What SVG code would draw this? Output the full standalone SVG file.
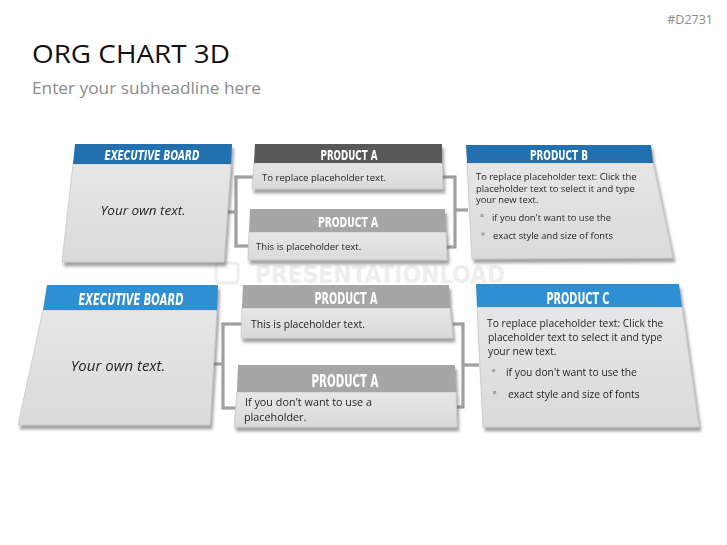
<svg xmlns="http://www.w3.org/2000/svg" width="727" height="545" viewBox="0 0 727 545">
<defs>
<filter id="sh" x="-10%" y="-10%" width="125%" height="135%">
<feDropShadow dx="2" dy="4" stdDeviation="1.8" flood-color="#555" flood-opacity="0.55"/>
</filter>
<linearGradient id="bodyg" x1="0" y1="0" x2="0" y2="1">
<stop offset="0" stop-color="#e6e6e6"/>
<stop offset="1" stop-color="#dadada"/>
</linearGradient>
</defs>
<style>
.body{fill:url(#bodyg);stroke:#c8c8c8;stroke-width:0.8}
.hd1{fill:#2170ad}
.hd2{fill:#2f8fd3}
.hdk{fill:#595959}
.hdl{fill:#a6a6a6}
.ht{font-family:"DejaVu Sans Condensed","DejaVu Sans",sans-serif;font-weight:bold;fill:#ffffff;text-anchor:middle}
.hi{font-style:italic}
.bt{font-family:"Open Sans","Noto Sans",sans-serif;fill:#262626}
.conn{fill:none;stroke:#8a8a8a;stroke-width:3;stroke-linejoin:miter}
.conn2{fill:none;stroke:#b5b5b5;stroke-width:1}
.bul{fill:#a6a6a6}
</style>
<rect width="727" height="545" fill="#ffffff"/>
<text x="713" y="24" font-family="Open Sans, sans-serif" font-size="12.5" fill="#8c8c8c" text-anchor="end">#D2731</text>
<text x="32" y="63" font-family="Open Sans, sans-serif" font-size="25" fill="#111111" textLength="198" lengthAdjust="spacingAndGlyphs">ORG CHART 3D</text>
<text x="32" y="94" font-family="Open Sans, sans-serif" font-size="16" fill="#8c8c8c" textLength="229" lengthAdjust="spacingAndGlyphs">Enter your subheadline here</text>
<g id="watermark" fill="#eeeeee">
<rect x="216" y="263" width="22" height="20" rx="3" fill="none" stroke="#eeeeee" stroke-width="3"/>
<text x="255" y="283" font-family="DejaVu Sans Condensed, sans-serif" font-weight="bold" font-size="24" textLength="250" lengthAdjust="spacingAndGlyphs">PRESENTATIONLOAD</text>
</g>
<g id="connectors">
<path class="conn" d="M224,212 H236 M254,177 H236 V246 H249 M443,177 H455 V247 H447 M455,210 H468"/>
<path class="conn2" d="M224,212 H236 M254,177 H236 V246 H249 M443,177 H455 V247 H447 M455,210 H468"/>
<path class="conn" d="M210,364 H223 M242,324 H223 V408 H236 M453,324 H463 V407 H457 M463,365 H479"/>
<path class="conn2" d="M210,364 H223 M242,324 H223 V408 H236 M453,324 H463 V407 H457 M463,365 H479"/>
</g>
<g id="exec1" filter="url(#sh)">
<polygon class="body" points="73,164 231,164 224,262 62,262"/>
<polygon class="hd1" points="75,144 232,144 231,164 73,164"/>
<text class="ht hi" x="152" y="159.5" font-size="14" textLength="95" lengthAdjust="spacingAndGlyphs">EXECUTIVE BOARD</text>
<text class="bt" x="143" y="215" font-size="13.5" font-style="italic" text-anchor="middle">Your own text.</text>
</g>
<g id="prodA1" filter="url(#sh)">
<polygon class="body" points="254,163 442,163 443,189 252,189"/>
<polygon class="hdk" points="255,144 442,144 442,163 254,163"/>
<text class="ht" x="349" y="159.5" font-size="14" textLength="57" lengthAdjust="spacingAndGlyphs">PRODUCT A</text>
<text class="bt" x="262" y="180.5" font-size="9.6">To replace placeholder text.</text>
</g>
<g id="prodA2" filter="url(#sh)">
<polygon class="body" points="249,232 446,232 447,260 248,260"/>
<polygon class="hdl" points="250,209 445,209 446,232 249,232"/>
<text class="ht" x="348" y="226.5" font-size="14.5" textLength="60" lengthAdjust="spacingAndGlyphs">PRODUCT A</text>
<text class="bt" x="256" y="249.5" font-size="9.6">This is placeholder text.</text>
</g>
<g id="prodB" filter="url(#sh)">
<polygon class="body" points="467,163 653,163 673,258 472,259"/>
<polygon class="hd1" points="466,145 651,145 653,163 467,163"/>
<text class="ht" x="559" y="159.5" font-size="14" textLength="58" lengthAdjust="spacingAndGlyphs">PRODUCT B</text>
<text class="bt" font-size="9.4">
<tspan x="476" y="180">To replace placeholder text: Click the</tspan>
<tspan x="476" y="191.5">placeholder text to select it and type</tspan>
<tspan x="476" y="203">your new text.</tspan>
<tspan x="492" y="220.5">if you don't want to use the</tspan>
<tspan x="493" y="239">exact style and size of fonts</tspan>
</text>
<rect class="bul" x="480.5" y="214" width="3" height="3"/>
<rect class="bul" x="481.5" y="232.5" width="3" height="3"/>
</g>
<g id="exec2" filter="url(#sh)">
<polygon class="body" points="43,310 217,310 210,425 18,425"/>
<polygon class="hd2" points="47,285 218,285 217,310 43,310"/>
<text class="ht hi" x="131" y="304.5" font-size="16.5" textLength="105" lengthAdjust="spacingAndGlyphs">EXECUTIVE BOARD</text>
<text class="bt" x="118" y="371" font-size="15" font-style="italic" text-anchor="middle">Your own text.</text>
</g>
<g id="prodA3" filter="url(#sh)">
<polygon class="body" points="242,308 450,308 453,338 241,338"/>
<polygon class="hdl" points="243,285 449,285 450,308 242,308"/>
<text class="ht" x="346" y="303.5" font-size="16.5" textLength="63" lengthAdjust="spacingAndGlyphs">PRODUCT A</text>
<text class="bt" x="251" y="328" font-size="10.4">This is placeholder text.</text>
</g>
<g id="prodA4" filter="url(#sh)">
<polygon class="body" points="237,392 456,392 457,427 234,427"/>
<polygon class="hdl" points="238,365 455,365 456,392 237,392"/>
<text class="ht" x="345" y="386.5" font-size="17" textLength="67" lengthAdjust="spacingAndGlyphs">PRODUCT A</text>
<text class="bt" font-size="10.8">
<tspan x="245" y="406">If you don't want to use a</tspan>
<tspan x="244" y="421">placeholder.</tspan>
</text>
</g>
<g id="prodC" filter="url(#sh)">
<polygon class="body" points="477,307 682,307 699,427 483,427"/>
<polygon class="hd2" points="476,284 679,284 682,307 477,307"/>
<text class="ht" x="578" y="303.5" font-size="16.5" textLength="63" lengthAdjust="spacingAndGlyphs">PRODUCT C</text>
<text class="bt" font-size="10.3">
<tspan x="487" y="327">To replace placeholder text: Click the</tspan>
<tspan x="488" y="341">placeholder text to select it and type</tspan>
<tspan x="488" y="355">your new text.</tspan>
<tspan x="506" y="376">if you don't want to use the</tspan>
<tspan x="508" y="398">exact style and size of fonts</tspan>
</text>
<rect class="bul" x="492" y="369" width="3.2" height="3.2"/>
<rect class="bul" x="493" y="391" width="3.2" height="3.2"/>
</g>
</svg>
